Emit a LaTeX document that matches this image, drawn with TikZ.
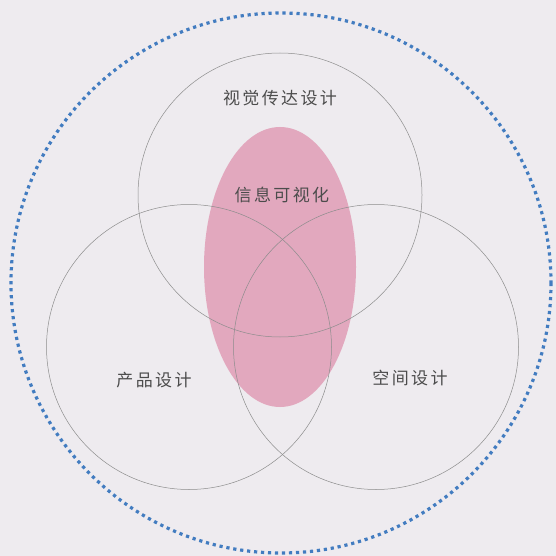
\documentclass[tikz,border=0pt]{standalone}
\usepackage{fontspec}
\newfontfamily\cjk{Noto Sans CJK SC}[LetterSpace=14]
\begin{document}
\begin{tikzpicture}[x=1pt,y=-1pt,
  ring/.style={draw=black!45,line width=0.5pt},
  lbl/.style={font=\cjk\fontsize{17}{20}\selectfont,text=black!70,inner sep=0pt}]
\definecolor{bg}{HTML}{EEEBEF}
\definecolor{pinkfill}{HTML}{E2A8BE}
\definecolor{dotblue}{HTML}{427CC0}
\useasboundingbox (0,0) rectangle (556,556);
\fill[bg] (0,0) rectangle (556,556);
\draw[dotblue,line width=3.2pt,dash pattern=on 3.2pt off 3.8pt] (281,283) circle[radius=270];
\fill[pinkfill] (280,267) ellipse[x radius=76,y radius=140];
\draw[ring] (280,195) circle[radius=142];
\draw[ring] (189,347) circle[radius=142.5];
\draw[ring] (376,347) circle[radius=142.5];
\node[lbl] (vcd) at (280,98) {视觉传达设计};
\node[lbl] (iv) at (282,195) {信息可视化};
\node[lbl] (pd) at (154,380) {产品设计};
\node[lbl] (sd) at (410,378) {空间设计};
\end{tikzpicture}
\end{document}
